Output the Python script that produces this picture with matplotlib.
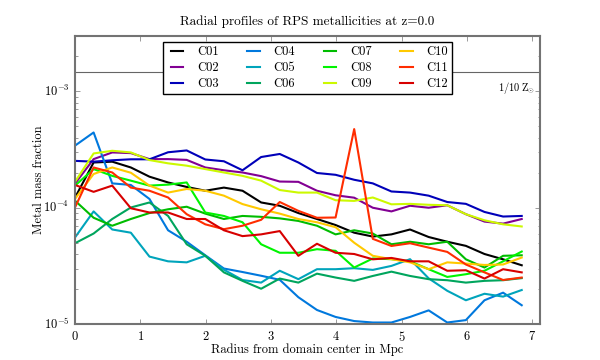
import numpy as np
import matplotlib
matplotlib.use('Agg')
import matplotlib.pyplot as plt
from matplotlib import cm

# radial bins (Mpc)
radius = [0.0, 0.285, 0.57, 0.855, 1.14, 1.425, 1.71, 1.995, 2.28, 2.565, 2.85, 3.135,
          3.42, 3.705, 3.99, 4.275, 4.56, 4.845, 5.13, 5.415, 5.7, 5.985, 6.27, 6.555, 6.84]

# metal mass fraction, in units of 1e-5
c01 = [12.2, 24.5, 24.9, 22.2, 18.5, 16.5, 15.1, 14.0, 14.9, 14.0, 11.1, 10.4, 9.0,
       8.0, 7.1, 6.1, 5.65, 5.9, 6.5, 5.6, 5.1, 4.7, 4.0, 3.6, 3.2]
c02 = [16.1, 26.2, 29.9, 29.5, 26.2, 26.2, 25.8, 22.2, 21.0, 20.1, 18.7, 16.8, 16.7,
       14.0, 12.8, 12.2, 10.0, 9.3, 10.4, 10.0, 10.5, 8.8, 7.6, 7.3, 8.0]
c03 = [25.3, 24.9, 25.6, 26.1, 26.1, 30.0, 31.1, 26.0, 25.1, 21.0, 27.3, 29.0, 24.5,
       19.9, 19.2, 17.4, 16.2, 13.8, 13.5, 12.7, 11.2, 10.8, 9.2, 8.4, 8.5]
c04 = [34.2, 44.4, 16.2, 15.7, 11.9, 6.4, 5.1, 3.9, 3.0, 2.8, 2.6, 2.4, 1.7,
       1.32, 1.15, 1.06, 1.03, 1.03, 1.15, 1.31, 1.03, 1.08, 1.6, 1.86, 1.45]
c05 = [5.55, 9.3, 6.5, 6.1, 3.8, 3.46, 3.39, 3.86, 2.93, 2.39, 2.27, 2.87, 2.43,
       2.96, 2.96, 3.02, 2.92, 3.16, 3.61, 2.47, 1.93, 1.60, 1.82, 1.72, 1.96]
c06 = [4.95, 6.0, 8.0, 10.05, 11.1, 8.5, 4.85, 3.86, 2.78, 2.35, 2.01, 2.46, 2.27,
       2.71, 2.51, 2.35, 2.59, 2.82, 2.59, 2.43, 2.38, 2.27, 2.35, 2.38, 2.48]
c07 = [11.5, 8.2, 7.0, 8.0, 9.0, 9.7, 10.2, 8.9, 8.0, 8.5, 8.35, 8.1, 7.7,
       7.0, 5.9, 6.4, 6.0, 4.85, 5.1, 4.85, 5.1, 3.6, 3.06, 3.86, 3.9]
c08 = [15.5, 21.5, 18.8, 17.1, 15.5, 15.8, 16.5, 9.1, 8.5, 7.5, 4.85, 4.1, 4.1,
       4.4, 4.26, 3.06, 3.66, 3.61, 3.46, 2.96, 2.54, 2.68, 2.87, 3.46, 4.2]
c09 = [16.7, 29.3, 30.9, 29.9, 25.7, 24.1, 23.0, 21.5, 20.1, 18.8, 17.1, 14.2, 13.5,
       13.5, 11.6, 11.45, 12.25, 10.7, 10.8, 10.6, 10.5, 8.8, 7.8, 7.2, 6.9]
c10 = [11.9, 19.5, 22.2, 20.0, 15.5, 13.5, 14.5, 14.0, 12.7, 10.75, 9.7, 8.9, 8.0,
       7.5, 6.8, 5.0, 3.86, 3.61, 3.39, 2.96, 3.39, 3.31, 3.22, 3.25, 3.73]
c11 = [10.05, 22.2, 20.1, 14.9, 14.0, 12.25, 8.8, 7.2, 6.54, 7.0, 7.87, 11.2, 9.4,
       8.2, 8.24, 47.5, 5.4, 4.69, 4.95, 4.54, 4.17, 3.25, 2.78, 2.39, 2.51]
c12 = [15.7, 13.7, 15.5, 9.9, 9.1, 9.1, 8.0, 8.0, 6.4, 5.7, 5.9, 6.3, 3.86,
       4.9, 4.1, 4.0, 3.6, 3.7, 3.46, 3.46, 2.87, 2.9, 2.46, 2.96, 2.78]

labels = ['C01', 'C02', 'C03', 'C04', 'C05', 'C06',
          'C07', 'C08', 'C09', 'C10', 'C11', 'C12']
profiles = [c01, c02, c03, c04, c05, c06, c07, c08, c09, c10, c11, c12]
z_sun_tenth = 1.47e-3

plt.style.use('classic')
plt.rcParams['font.family'] = ['cmr10', 'DejaVu Serif']
plt.rcParams['mathtext.fontset'] = 'cm'
plt.rcParams['axes.formatter.use_mathtext'] = True
plt.rcParams['font.size'] = 9

fig = plt.figure(figsize=(6, 3.6), dpi=100)
ax = fig.add_subplot(111)

for i, (lab, prof) in enumerate(zip(labels, profiles)):
    ax.plot(radius, np.array(prof) * 1e-5, '-', lw=1.5,
            color=cm.nipy_spectral(i / 12.0), label=lab)

ax.axhline(z_sun_tenth, color='0.4', lw=0.8)
ax.text(6.47, 1e-3, r'$1/10\ \mathrm{Z}_{\!\!\odot}$', fontsize=7.5)

ax.set_yscale('log')
ax.set_xlim(0, 7.12)
ax.set_ylim(1e-5, 3e-3)
ax.set_xlabel('Radius from domain center in Mpc', fontsize=9, labelpad=0)
ax.set_ylabel('Metal mass fraction', fontsize=9, labelpad=-1)
ax.set_title('Radial profiles of RPS metallicities at z=0.0', fontsize=9.5, pad=8)

for sp in ax.spines.values():
    sp.set_color('0.45')
    sp.set_linewidth(1.5)
ax.tick_params(which='both', color='0.45', labelsize=9)
ax.tick_params(which='major', length=3.5)
ax.tick_params(which='minor', length=1.8)

leg = ax.legend(loc='upper center', ncol=4, fontsize=9, handlelength=1.6,
                labelspacing=0.3, borderpad=0.3, columnspacing=2.0)
leg.get_frame().set_linewidth(1.0)

plt.savefig('out.png', dpi=100)
